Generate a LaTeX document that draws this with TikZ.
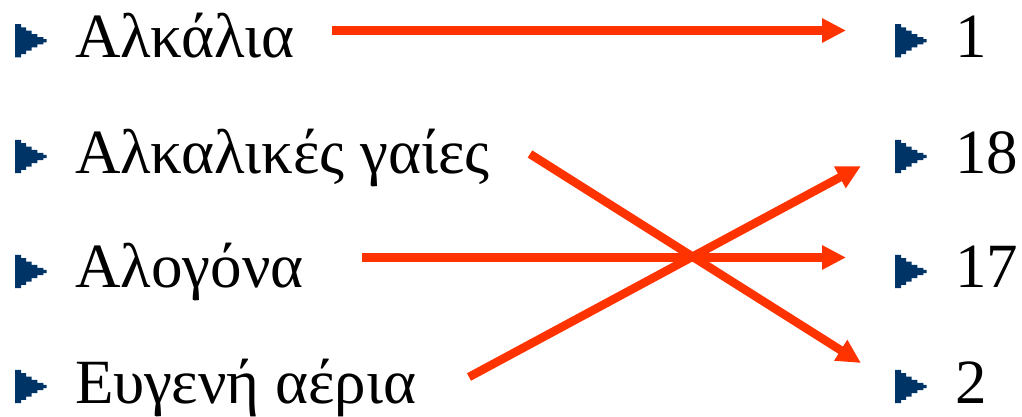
\documentclass[tikz,border=0pt]{standalone}
\usepackage{fontspec}
\setmainfont{Liberation Serif}
\usetikzlibrary{arrows.meta}
\definecolor{arrred}{HTML}{FF3300}
\definecolor{bulblue}{HTML}{003366}
\tikzset{
  lbl/.style={inner sep=0pt, anchor=base west, font=\fontsize{63}{76}\selectfont},
  conn/.style={draw=arrred, line width=8.5pt, -{Triangle[length=24pt,width=23pt]}},
  bul/.pic={\fill[bulblue] (0,-16.7) -- (6,-16.7) -- (6,-13.3) -- (11,-13.3) -- (11,-10) -- (16.7,-10) -- (16.7,-6.7) -- (22.3,-6.7) -- (22.3,-3.7) -- (28.3,-3.7) -- (28.3,-1.7) -- (31.7,-1.7) -- (31.7,1.7) -- (28.3,1.7) -- (28.3,3.7) -- (22.3,3.7) -- (22.3,6.7) -- (16.7,6.7) -- (16.7,10) -- (11,10) -- (11,13.3) -- (6,13.3) -- (6,16.7) -- (0,16.7) -- cycle;}
}
\begin{document}
\begin{tikzpicture}[x=1pt,y=-1pt]
\useasboundingbox (0,0) rectangle (1022,416);
% bullets
\foreach \yy in {40.7,156.5,271.5,386.5} {
  \pic at (15,\yy) {bul};
  \pic at (895,\yy) {bul};
}
% left labels
\node[lbl] (l1) at (75,57) {Αλκάλια};
\node[lbl] (l2) at (75,173) {Αλκαλικές γαίες};
\node[lbl] (l3) at (75,287) {Αλογόνα};
\node[lbl] (l4) at (75,403) {Ευγενή αέρια};
% right labels
\node[lbl] (r1) at (955,57) {1};
\node[lbl] (r2) at (955,173) {18};
\node[lbl] (r3) at (955,287) {17};
\node[lbl] (r4) at (955,403) {2};
% connector ends
\coordinate (s1) at (332,30.5);
\coordinate (e1) at (846,30.5);
\coordinate (s2) at (530,154);
\coordinate (e2) at (861,363);
\coordinate (s3) at (362,257.5);
\coordinate (e3) at (846,257.5);
\coordinate (s4) at (469,377);
\coordinate (e4) at (861,166);
\draw[conn] (s1) -- (e1);
\draw[conn] (s2) -- (e2);
\draw[conn] (s3) -- (e3);
\draw[conn] (s4) -- (e4);
\end{tikzpicture}
\end{document}
